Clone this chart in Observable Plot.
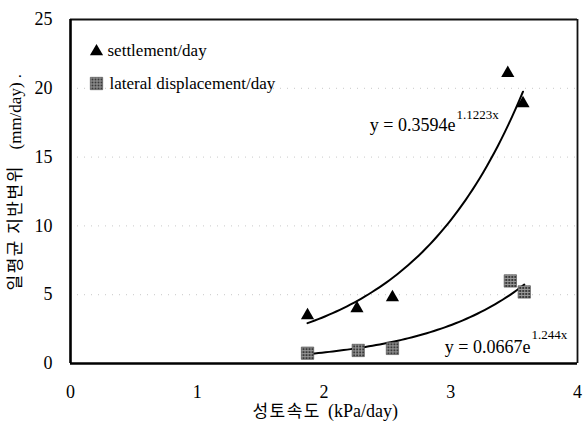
<!DOCTYPE html>
<html><head><meta charset="utf-8">
<script src="https://cdn.jsdelivr.net/npm/d3@7"></script>
<script src="https://cdn.jsdelivr.net/npm/@observablehq/plot@0.6"></script>
<style>body{margin:0;background:#fff}</style>
</head><body><div id="chart"></div>
<script>
// Data
const settleRate = [1.87, 2.26, 2.54, 3.45, 3.57];
const settlement = [3.5, 4.0, 4.8, 21.1, 18.9];
const lateralRate = [1.87, 2.27, 2.54, 3.47, 3.58];
const lateral = [0.75, 0.95, 1.1, 6.0, 5.2];
// Exponential trendline coefficients shown on the chart (y = a e^(b x))
const fitA = [0.3594, 0.0667];
const fitB = [1.1223, 1.244];
const fitMain = ["y = 0.3594e", "y = 0.0667e"];
const fitExp = ["1.1223x", "1.244x"];
const xTicks = [0, 1, 2, 3, 4];
const yTicks = [0, 5, 10, 15, 20, 25];
const gridTicks = [5, 10, 15, 20];
const seriesNames = ["settlement/day", "lateral displacement/day"];
const xTitleKo = "성토속도";
const xTitleUnit = "(kPa/day)";
const yTitleKo = "일평균 지반변위";
const yTitleUnit = "(mm/day) .";

const FONT = '"Liberation Serif", "Times New Roman", "DejaVu Serif", "Noto Sans CJK KR", serif';
const FONT_KO = '"Noto Sans CJK KR", sans-serif';
const settleData = settleRate.map((x, i) => ({x, y: settlement[i]}));
const lateralData = lateralRate.map((x, i) => ({x, y: lateral[i]}));
function curve(xs, a, b) {
  const x0 = d3.min(xs), x1 = d3.max(xs);
  return d3.range(61).map(i => { const x = x0 + (x1 - x0) * i / 60; return {x, y: a * Math.exp(b * x)}; });
}
const settleCurve = curve(settleRate, fitA[0], fitB[0]);
const lateralCurve = curve(lateralRate, fitA[1], fitB[1]);

const TL = {frameAnchor: "top-left", fontFamily: FONT};
const chart = Plot.plot({
  width: 583, height: 426,
  marginLeft: 70, marginRight: 6, marginTop: 19, marginBottom: 63,
  style: {"font-family": FONT, "font-size": "18px", color: "#000", background: "#fff"},
  x: {domain: [0, 4]},
  y: {domain: [0, 25]},
  marks: [
    Plot.gridY(gridTicks, {stroke: "#888", strokeOpacity: 0.45, strokeDasharray: "1,6"}),
    Plot.axisX(xTicks, {tickSize: 0, tickPadding: 22, fontSize: 18, fontFamily: FONT, label: null, tickFormat: d => String(d)}),
    Plot.axisY(yTicks, {tickSize: 0, tickPadding: 18, fontSize: 18, fontFamily: FONT, label: null, tickFormat: d => String(d)}),
    Plot.ruleX([4], {stroke: "#111", strokeWidth: 1.8}),
    Plot.ruleY([25], {stroke: "#111", strokeWidth: 1.8}),
    Plot.ruleX([0], {stroke: "#000", strokeWidth: 2.6}),
    Plot.ruleY([0], {stroke: "#000", strokeWidth: 2.6}),
    Plot.line(settleCurve, {x: "x", y: "y", stroke: "#000", strokeWidth: 2}),
    Plot.line(lateralCurve, {x: "x", y: "y", stroke: "#000", strokeWidth: 2}),
    Plot.dot(settleData, {x: "x", y: "y", symbol: "triangle", r: 4.9, fill: "#000"}),
    Plot.dot(lateralData, {x: "x", y: "y", symbol: "square", r: 7, fill: "url(#hatch)", stroke: "#333", strokeWidth: 0.5}),
    // legend
    Plot.dot([0], {frameAnchor: "top-left", dx: 26, dy: 32, symbol: "triangle", r: 4.9, fill: "#000"}),
    Plot.text([seriesNames[0]], {...TL, dx: 37, dy: 31, text: d => d, textAnchor: "start", lineAnchor: "middle", fontSize: 17}),
    Plot.dot([0], {frameAnchor: "top-left", dx: 26, dy: 64, symbol: "square", r: 7, fill: "url(#hatch)", stroke: "#333", strokeWidth: 0.5}),
    Plot.text([seriesNames[1]], {...TL, dx: 39, dy: 64, text: d => d, textAnchor: "start", lineAnchor: "middle", fontSize: 17}),
    // equations
    Plot.text([fitMain[0]], {...TL, dx: 385, dy: 111, text: d => d, textAnchor: "end", lineAnchor: "bottom", fontSize: 18}),
    Plot.text([fitExp[0]], {...TL, dx: 386, dy: 99, text: d => d, textAnchor: "start", lineAnchor: "bottom", fontSize: 13}),
    Plot.text([fitMain[1]], {...TL, dx: 460, dy: 333, text: d => d, textAnchor: "end", lineAnchor: "bottom", fontSize: 18}),
    Plot.text([fitExp[1]], {...TL, dx: 461, dy: 319, text: d => d, textAnchor: "start", lineAnchor: "bottom", fontSize: 13}),
    // axis titles
    Plot.text([xTitleKo], {frameAnchor: "bottom", fontFamily: FONT_KO, dx: -3, dy: 48, text: d => d, textAnchor: "end", lineAnchor: "middle", fontSize: 17}),
    Plot.text([xTitleUnit], {frameAnchor: "bottom", fontFamily: FONT, dx: 4, dy: 48, text: d => d, textAnchor: "start", lineAnchor: "middle", fontSize: 18}),
    Plot.text([yTitleKo], {frameAnchor: "left", fontFamily: FONT_KO, dx: -55, dy: 99, rotate: -90, text: d => d, textAnchor: "start", lineAnchor: "middle", fontSize: 17}),
    Plot.text([yTitleUnit], {frameAnchor: "left", fontFamily: FONT, dx: -55, dy: -42, rotate: -90, text: d => d, textAnchor: "start", lineAnchor: "middle", fontSize: 17})
  ]
});
chart.querySelectorAll("text").forEach(t => {
  if (t.textContent === xTitleKo || t.textContent === yTitleKo) t.style.letterSpacing = "1.5px";
});
const defs = document.createElementNS("http://www.w3.org/2000/svg", "defs");
defs.innerHTML = '<pattern id="hatch" width="3" height="3" patternUnits="userSpaceOnUse"><rect width="3" height="3" fill="#3a3a3a"/><path d="M0 0.5H3M0.5 0V3" stroke="#9a9a9a" stroke-width="1"/></pattern>';
chart.insertBefore(defs, chart.firstChild);
document.getElementById("chart").appendChild(chart);
</script>
</body></html>
